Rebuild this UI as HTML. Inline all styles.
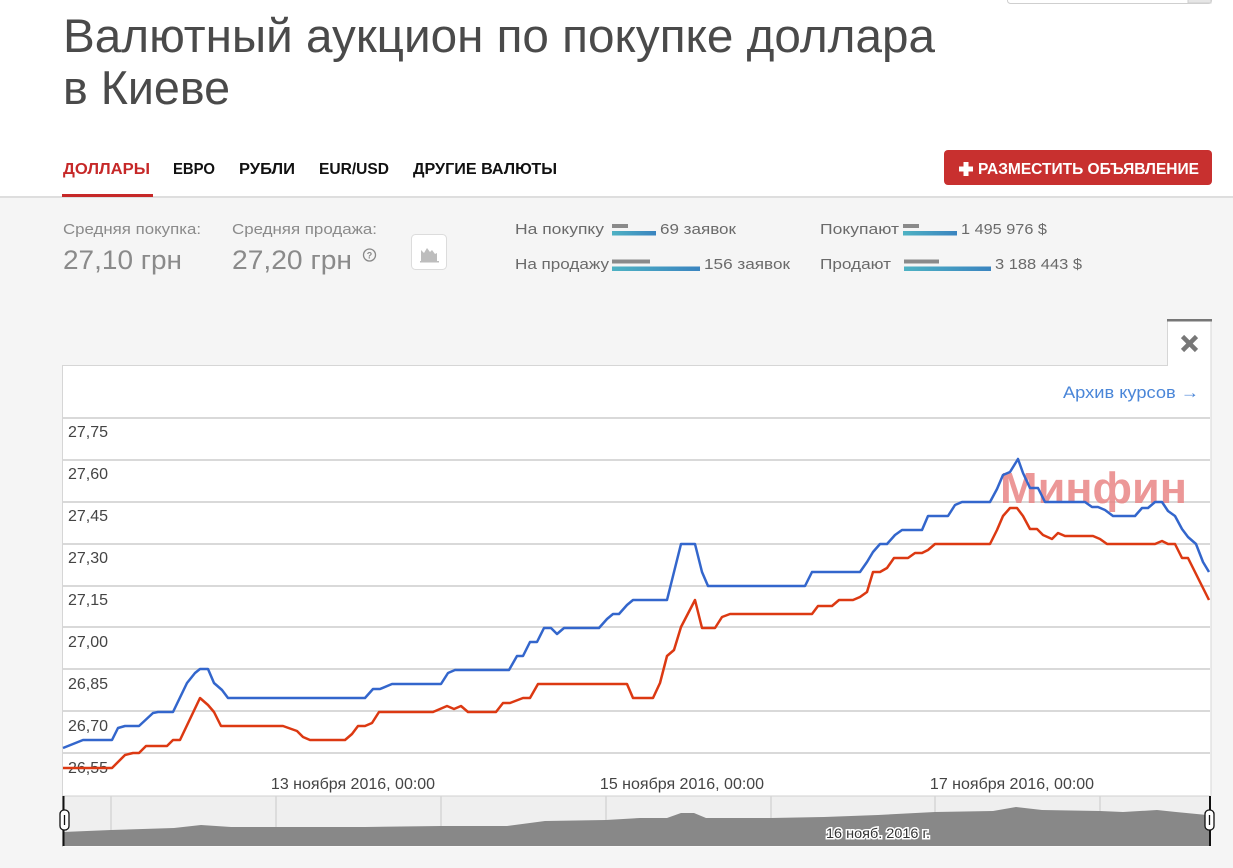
<!DOCTYPE html>
<html><head><meta charset="utf-8">
<style>
html,body{margin:0;padding:0;background:#f5f5f5;}
svg{display:block;}
text{font-family:"Liberation Sans","DejaVu Sans",sans-serif;}
</style></head>
<body>
<svg width="1233" height="868" viewBox="0 0 1233 868" xmlns="http://www.w3.org/2000/svg">
<defs>
<linearGradient id="tg" x1="0" x2="1" y1="0" y2="0">
<stop offset="0" stop-color="#4eb2c3"/><stop offset="1" stop-color="#3a84c0"/>
</linearGradient>
</defs>
<!-- backgrounds -->
<rect x="0" y="0" width="1233" height="868" fill="#f5f5f5"/>
<rect x="0" y="0" width="1233" height="196" fill="#ffffff"/>
<rect x="0" y="196" width="1233" height="2" fill="#dedede"/>
<rect x="62" y="194" width="91" height="3" fill="#c62828"/>

<!-- search box top right -->
<rect x="1007.5" y="-6" width="204" height="9.5" rx="3" fill="#fff" stroke="#cfcfcf"/>
<rect x="1188" y="-6" width="23" height="9" fill="#e6e6e6" stroke="#cfcfcf"/>

<!-- title -->
<text x="63" y="52" font-size="47" fill="#4a4a4a" textLength="872" lengthAdjust="spacingAndGlyphs">Валютный аукцион по покупке доллара</text>
<text x="63" y="104" font-size="47" fill="#4a4a4a" textLength="167" lengthAdjust="spacingAndGlyphs">в Киеве</text>

<!-- tabs -->
<text x="63" y="174" font-size="16" font-weight="bold" fill="#c62828" textLength="87" lengthAdjust="spacingAndGlyphs">ДОЛЛАРЫ</text>
<text x="173" y="174" font-size="16" font-weight="bold" fill="#111" textLength="42" lengthAdjust="spacingAndGlyphs">ЕВРО</text>
<text x="239" y="174" font-size="16" font-weight="bold" fill="#111" textLength="56" lengthAdjust="spacingAndGlyphs">РУБЛИ</text>
<text x="319" y="174" font-size="16" font-weight="bold" fill="#111" textLength="70" lengthAdjust="spacingAndGlyphs">EUR/USD</text>
<text x="413" y="174" font-size="16" font-weight="bold" fill="#111" textLength="144" lengthAdjust="spacingAndGlyphs">ДРУГИЕ ВАЛЮТЫ</text>

<!-- button -->
<rect x="944" y="150" width="268" height="35" rx="4" fill="#c8302f"/>
<path d="M963.5 162h5v4.5h4.5v5h-4.5v4.5h-5v-4.5h-4.5v-5h4.5z" fill="#fff"/>
<text x="978" y="174" font-size="16" font-weight="bold" fill="#fff" textLength="221" lengthAdjust="spacingAndGlyphs">РАЗМЕСТИТЬ ОБЪЯВЛЕНИЕ</text>

<!-- stats -->
<text x="63" y="234" font-size="15" fill="#8a8a8a" textLength="138" lengthAdjust="spacingAndGlyphs">Средняя покупка:</text>
<text x="63" y="269" font-size="27" fill="#8a8a8a" textLength="119" lengthAdjust="spacingAndGlyphs">27,10 грн</text>
<text x="232" y="234" font-size="15" fill="#8a8a8a" textLength="145" lengthAdjust="spacingAndGlyphs">Средняя продажа:</text>
<text x="232" y="269" font-size="27" fill="#8a8a8a" textLength="120" lengthAdjust="spacingAndGlyphs">27,20 грн</text>
<circle cx="369.5" cy="255" r="6" fill="none" stroke="#888" stroke-width="1.3"/>
<text x="369.5" y="258.5" font-size="9" font-weight="bold" fill="#888" text-anchor="middle">?</text>
<rect x="411.5" y="234.5" width="35" height="35" rx="4" fill="#fff" stroke="#dcdcdc"/>
<path d="M421 262v-12l3 3 3-5 3 4 2-2 3 4 2-1v9z" fill="#bdbdbd"/>
<rect x="420" y="261" width="19" height="1.5" fill="#bdbdbd"/>

<text x="515" y="234" font-size="15" fill="#6a6a6a" textLength="89" lengthAdjust="spacingAndGlyphs">На покупку</text>
<rect x="612" y="224" width="16" height="4" fill="#8a8a8a"/>
<rect x="612" y="231" width="44" height="4.5" fill="url(#tg)"/>
<text x="660" y="234" font-size="15" fill="#6a6a6a" textLength="76" lengthAdjust="spacingAndGlyphs">69 заявок</text>

<text x="515" y="269" font-size="15" fill="#6a6a6a" textLength="94" lengthAdjust="spacingAndGlyphs">На продажу</text>
<rect x="612" y="259.5" width="38" height="4" fill="#8a8a8a"/>
<rect x="612" y="266.5" width="88" height="4.5" fill="url(#tg)"/>
<text x="704" y="269" font-size="15" fill="#6a6a6a" textLength="86" lengthAdjust="spacingAndGlyphs">156 заявок</text>

<text x="820" y="234" font-size="15" fill="#6a6a6a" textLength="79" lengthAdjust="spacingAndGlyphs">Покупают</text>
<rect x="903" y="224" width="16" height="4" fill="#8a8a8a"/>
<rect x="903" y="231" width="54" height="4.5" fill="url(#tg)"/>
<text x="961" y="234" font-size="15" fill="#6a6a6a" textLength="86" lengthAdjust="spacingAndGlyphs">1 495 976 $</text>

<text x="820" y="269" font-size="15" fill="#6a6a6a" textLength="71" lengthAdjust="spacingAndGlyphs">Продают</text>
<rect x="904" y="259.5" width="35" height="4" fill="#8a8a8a"/>
<rect x="904" y="266.5" width="87" height="4.5" fill="url(#tg)"/>
<text x="995" y="269" font-size="15" fill="#6a6a6a" textLength="87" lengthAdjust="spacingAndGlyphs">3 188 443 $</text>

<!-- chart panel -->
<rect x="62.5" y="365.5" width="1148" height="481" fill="#fff"/>
<line x1="62.5" y1="365.5" x2="1167" y2="365.5" stroke="#d6d6d6"/>
<line x1="62.5" y1="365" x2="62.5" y2="847" stroke="#d6d6d6"/>
<line x1="1211" y1="319" x2="1211" y2="796" stroke="#d6d6d6"/>
<rect x="1167.5" y="320" width="43" height="46" fill="#fff"/>
<line x1="1167.5" y1="320" x2="1167.5" y2="366" stroke="#d6d6d6"/>
<rect x="1167" y="319" width="45" height="2.5" fill="#777"/>
<g stroke="#777" stroke-width="4.5" stroke-linecap="butt">
<line x1="1182.5" y1="336.5" x2="1196.5" y2="350.5"/>
<line x1="1196.5" y1="336.5" x2="1182.5" y2="350.5"/>
</g>

<text x="1199" y="398" font-size="17" fill="#4a86d8" text-anchor="end" textLength="136" lengthAdjust="spacingAndGlyphs">Архив курсов →</text>

<!-- gridlines -->
<g stroke="#d9d9d9" stroke-width="2">
<line x1="63" y1="418" x2="1210" y2="418"/>
<line x1="63" y1="460" x2="1210" y2="460"/>
<line x1="63" y1="502" x2="1210" y2="502"/>
<line x1="63" y1="544" x2="1210" y2="544"/>
<line x1="63" y1="586" x2="1210" y2="586"/>
<line x1="63" y1="627" x2="1210" y2="627"/>
<line x1="63" y1="669" x2="1210" y2="669"/>
<line x1="63" y1="711" x2="1210" y2="711"/>
<line x1="63" y1="753" x2="1210" y2="753"/>
</g>

<!-- y labels -->
<g font-size="16" fill="#444">
<text x="68" y="437">27,75</text>
<text x="68" y="479">27,60</text>
<text x="68" y="521">27,45</text>
<text x="68" y="563">27,30</text>
<text x="68" y="605">27,15</text>
<text x="68" y="647">27,00</text>
<text x="68" y="689">26,85</text>
<text x="68" y="731">26,70</text>
<text x="68" y="773">26,55</text>
</g>

<!-- watermark -->
<text x="1000" y="503" font-size="44" font-weight="bold" fill="#e98585" fill-opacity="0.85" textLength="187" lengthAdjust="spacingAndGlyphs">Минфин</text>

<!-- x labels -->
<g font-size="16" fill="#444" text-anchor="middle">
<text x="353" y="789">13 ноября 2016, 00:00</text>
<text x="682" y="789">15 ноября 2016, 00:00</text>
<text x="1012" y="789">17 ноября 2016, 00:00</text>
</g>

<!-- series -->
<polyline fill="none" stroke="#3366cc" stroke-width="2.5" stroke-linejoin="round" points="63,748 83,740 112,740 118,728 125,726 139,726 153,713 158,712 173,712 187,683 195,673 200,669 208,669 214,683 222,690 228,698 365,698 373,689 380,689 392,684 441,684 448,673 455,670 509,670 517,656 523,656 530,642 537,642 544,628 551,628 557,634 564,628 599,628 607,619 613,614 619,614 627,605 633,600 667,600 681,544 695,544 702,572 708,586 805,586 812,572 860,572 867,562 873,552 880,544 887,544 895,535 902,530 922,530 928,516 948,516 955,505 962,502 990,502 997,489 1003,475 1010,472 1018,459 1023,473 1030,488 1038,488 1045,502 1085,502 1092,507 1098,507 1105,510 1113,516 1135,516 1142,508 1148,508 1155,502 1162,502 1168,511 1175,516 1182,529 1188,537 1196,544 1203,562 1209,572"/>
<polyline fill="none" stroke="#dc3912" stroke-width="2.5" stroke-linejoin="round" points="63,768 112,768 125,755 133,753 139,753 146,746 167,746 173,740 180,740 200,698 208,705 214,712 221,726 283,726 297,731 303,737 310,740 345,740 352,734 358,726 365,726 372,723 379,712 433,712 447,706 454,709 461,706 468,712 496,712 503,703 510,703 523,698 530,698 538,684 627,684 633,698 653,698 660,683 667,656 674,650 681,627 695,600 702,628 715,628 722,617 730,614 812,614 818,606 832,606 839,600 853,600 860,597 867,592 873,572 880,572 887,568 894,558 908,558 915,553 922,553 928,550 935,544 990,544 997,530 1003,516 1010,508 1017,508 1023,516 1030,529 1037,529 1043,535 1052,539 1058,533 1065,536 1093,536 1100,539 1107,544 1155,544 1162,541 1168,544 1175,544 1182,558 1188,558 1209,600"/>

<!-- navigator -->
<rect x="63" y="796" width="1147" height="50" fill="#efefef"/>
<line x1="63" y1="796" x2="1210" y2="796" stroke="#d0d0d0"/>
<g stroke="#d6d6d6" stroke-width="1.5">
<line x1="111" y1="796" x2="111" y2="846"/>
<line x1="276" y1="796" x2="276" y2="846"/>
<line x1="441" y1="796" x2="441" y2="846"/>
<line x1="606" y1="796" x2="606" y2="846"/>
<line x1="771" y1="796" x2="771" y2="846"/>
<line x1="935" y1="796" x2="935" y2="846"/>
<line x1="1100" y1="796" x2="1100" y2="846"/>
</g>
<polygon fill="#888" points="63,832 111,830 174,828 201,825 231,827 365,827 441,826 507,826 545,821 606,820 640,818 667,818 681,813 694,813 706,818 771,818 824,817 878,815 935,812 993,811 1016,807 1042,810 1100,811 1123,812 1157,810 1176,812 1207,815 1210,815 1210,846 63,846"/>
<text x="878" y="838" font-size="14" fill="#333" text-anchor="middle" stroke="#fff" stroke-width="3" paint-order="stroke" textLength="104" lengthAdjust="spacingAndGlyphs">16 нояб. 2016 г.</text>
<!-- handles -->
<line x1="63.5" y1="796" x2="63.5" y2="846" stroke="#111" stroke-width="2"/>
<rect x="60" y="810" width="9" height="20" rx="4" fill="#fff" stroke="#111" stroke-width="1.3"/>
<line x1="64.5" y1="815" x2="64.5" y2="825" stroke="#111" stroke-width="1.3"/>
<line x1="1210" y1="796" x2="1210" y2="846" stroke="#111" stroke-width="2"/>
<rect x="1205" y="810" width="9" height="20" rx="4" fill="#fff" stroke="#111" stroke-width="1.3"/>
<line x1="1209.5" y1="815" x2="1209.5" y2="825" stroke="#111" stroke-width="1.3"/>
</svg>
</body></html>
